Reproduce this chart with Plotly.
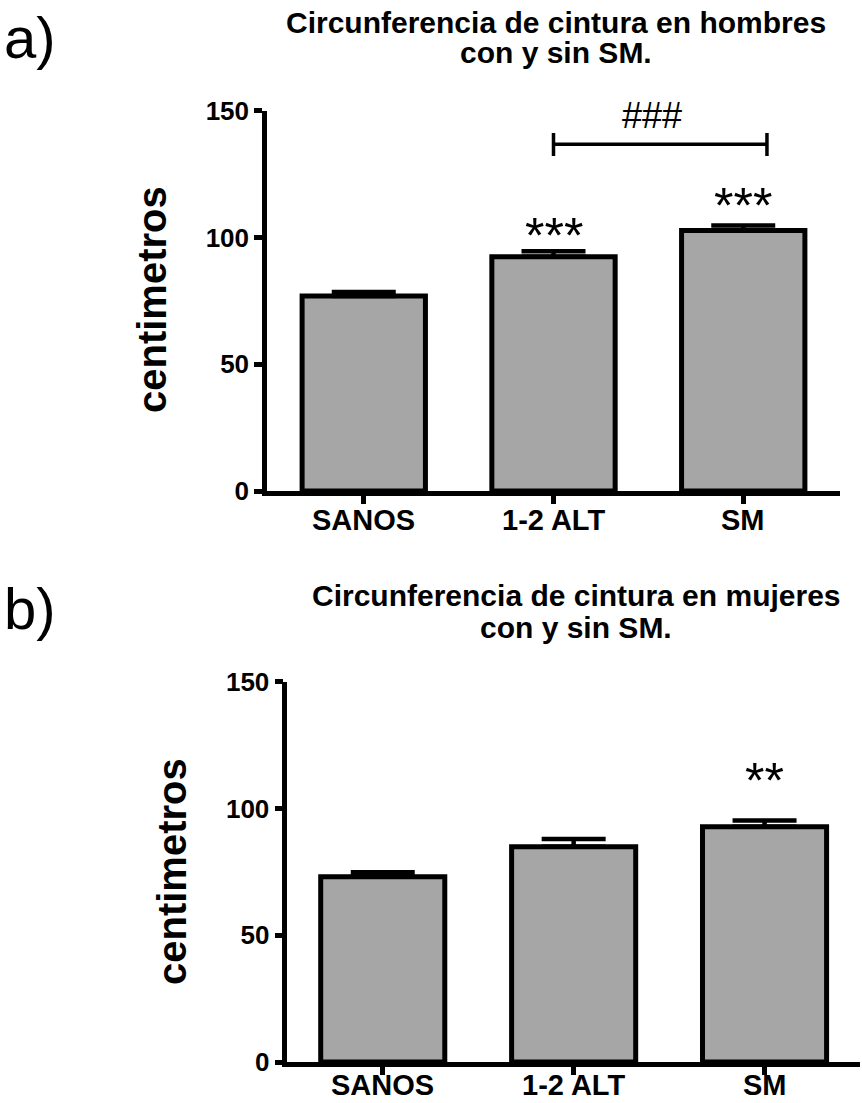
import plotly.graph_objects as go

categories = ["SANOS", "1-2 ALT", "SM"]
men_values = [76.9, 92.4, 102.7]
men_errors = [1.6, 2.2, 2.0]
women_values = [73.1, 84.9, 92.8]
women_errors = [1.7, 3.1, 2.5]
y_ticks = [0, 50, 100, 150]

men_stars = [("1-2 ALT", 100.5, "***"), ("SM", 112.4, "***")]
women_stars = [("SM", 111.0, "**")]
bracket = {"x0": 1.0, "x1": 2.125, "y": 136.8, "tick_lo": 132.1, "tick_hi": 141.2,
           "label": "###", "label_x": 1.52, "label_y": 148.0}

FONT = "Liberation Sans, Arial, sans-serif"
W, H = 862, 1103

def px_x(p):
    return p / W

def px_y(p):
    return 1 - p / H

fig = go.Figure()
for vals, errs, xa, ya in [(men_values, men_errors, "x", "y"),
                           (women_values, women_errors, "x2", "y2")]:
    fig.add_trace(go.Bar(
        x=categories, y=vals, xaxis=xa, yaxis=ya, width=0.65,
        marker=dict(color="#a6a6a6", line=dict(color="black", width=5)),
        error_y=dict(type="data", array=errs, arrayminus=[0] * len(errs),
                     symmetric=False, color="black", thickness=4.5, width=32),
        showlegend=False, hoverinfo="skip",
    ))

def axis_common(size):
    return dict(showline=True, linecolor="black", linewidth=4.5, ticks="outside",
                ticklen=8, tickwidth=4.5, tickcolor="black", showgrid=False,
                zeroline=False, automargin=False,
                tickfont=dict(family=FONT, size=size, color="black", weight="bold"))

fig.update_layout(
    width=W, height=H, margin=dict(l=0, r=0, t=0, b=0, autoexpand=False),
    paper_bgcolor="white", plot_bgcolor="white",
    xaxis=dict(domain=[px_x(267), px_x(840)], range=[-0.51, 2.51], anchor="y",
               showticklabels=False, **axis_common(29)),
    yaxis=dict(domain=[px_y(491), px_y(110.7)], range=[0, 150], anchor="x",
               tickvals=y_ticks, **axis_common(26)),
    xaxis2=dict(domain=[px_x(287.3), px_x(860)], range=[-0.5, 2.5], anchor="y2",
                showticklabels=False, **axis_common(29)),
    yaxis2=dict(domain=[px_y(1062), px_y(681.7)], range=[0, 150], anchor="x2",
                tickvals=y_ticks, **axis_common(26)),
    bargap=0.35,
)

ann = []
def paper_text(txt, cx, cy, size, bold=False, angle=0):
    f = dict(family=FONT, size=size, color="black")
    if bold:
        f["weight"] = "bold"
    return dict(text=txt, x=px_x(cx), y=px_y(cy), xref="paper", yref="paper",
                xanchor="center", yanchor="middle", textangle=angle,
                showarrow=False, font=f)

# panel letters
ann.append(paper_text("a)", 30, 38, 58))
ann.append(paper_text("b)", 30, 608, 58))
# titles
for txt, cx, cy in [("Circunferencia de cintura en hombres", 556, 22),
                    ("con y sin SM.", 556, 52),
                    ("Circunferencia de cintura en mujeres", 576, 595),
                    ("con y sin SM.", 576, 627)]:
    ann.append(paper_text(txt, cx, cy, 30, bold=True))
# y axis titles
for cx, cy in [(152, 300), (172, 872)]:
    ann.append(paper_text("centimetros", cx, cy, 40, bold=True, angle=-90))
# category labels (placed under each axis)
for xa, cy in [("x", 520), ("x2", 1085)]:
    for cat in categories:
        ann.append(dict(text=cat, x=cat, y=px_y(cy), xref=xa, yref="paper",
                        xanchor="center", yanchor="middle", showarrow=False,
                        font=dict(family=FONT, size=29, color="black", weight="bold")))
# stars
for cat, yv, s in men_stars:
    ann.append(dict(text=s, x=cat, y=yv, xref="x", yref="y", showarrow=False,
                    xanchor="center", yanchor="middle",
                    font=dict(family=FONT, size=50, color="black")))
for cat, yv, s in women_stars:
    ann.append(dict(text=s, x=cat, y=yv, xref="x2", yref="y2", showarrow=False,
                    xanchor="center", yanchor="middle",
                    font=dict(family=FONT, size=50, color="black")))
ann.append(dict(text=bracket["label"], x=bracket["label_x"], y=bracket["label_y"],
                xref="x", yref="y", showarrow=False, xanchor="center", yanchor="middle",
                font=dict(family=FONT, size=36, color="black")))
fig.update_layout(annotations=ann)

line = dict(color="black", width=3.5)
fig.add_shape(type="line", xref="x", yref="y", x0=bracket["x0"], x1=bracket["x1"],
              y0=bracket["y"], y1=bracket["y"], line=line)
for xv in (bracket["x0"], bracket["x1"]):
    fig.add_shape(type="line", xref="x", yref="y", x0=xv, x1=xv,
                  y0=bracket["tick_lo"], y1=bracket["tick_hi"], line=line)

fig.write_html("out.html")
